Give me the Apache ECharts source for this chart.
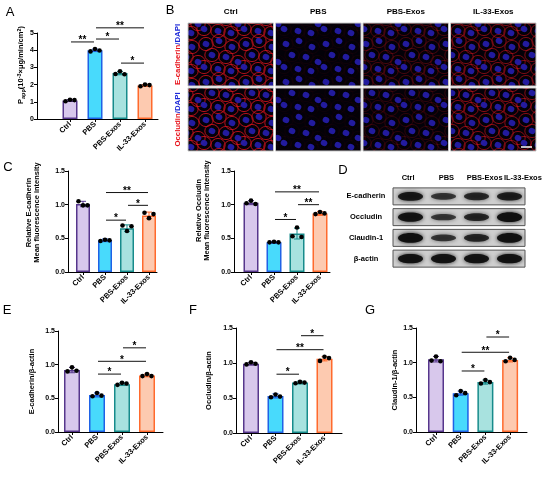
<!DOCTYPE html>
<html>
<head>
<meta charset="utf-8">
<script src="https://cdn.jsdelivr.net/npm/echarts@6/dist/echarts.min.js"></script>
<style>
html, body { margin: 0; padding: 0; background: #fff; }
#main { width: 550px; height: 479px; }
</style>
</head>
<body>
<div id="main"></div>
<script>
var groups = ['Ctrl', 'PBS', 'PBS-Exos', 'IL-33-Exos'];

// A: Papp
var pappMean = [1.08, 3.99, 2.67, 1.95];
var pappSd = [0.05, 0.07, 0.10, 0.05];
var pappDots = [[1.03, 1.12, 1.10], [3.93, 4.07, 3.98], [2.62, 2.78, 2.60], [1.90, 2.00, 1.97]];
var pappSig = [[0, 1, 4.48, '**'], [1, 3, 5.3, '**'], [1, 2, 4.65, '*'], [2, 3, 3.25, '*']];

// C: relative mean fluorescence intensity
var ecadMfiMean = [1.01, 0.47, 0.65, 0.84];
var ecadMfiSd = [0.04, 0.02, 0.05, 0.05];
var ecadMfiDots = [[1.05, 0.99, 0.99], [0.46, 0.48, 0.47], [0.69, 0.61, 0.68], [0.88, 0.80, 0.86]];
var ecadMfiSig = [[1, 3, 1.18, '**'], [2, 3, 0.99, '*'], [1, 2, 0.77, '*']];

var occMfiMean = [1.03, 0.44, 0.57, 0.87];
var occMfiSd = [0.03, 0.01, 0.08, 0.03];
var occMfiDots = [[1.02, 1.06, 1.01], [0.44, 0.45, 0.44], [0.53, 0.66, 0.52], [0.86, 0.89, 0.87]];
var occMfiSig = [[1, 3, 1.19, '**'], [2, 3, 1.0, '**'], [1, 2, 0.78, '*']];

// E, F, G: western blot densitometry
var ecadRatio = [0.92, 0.55, 0.71, 0.84];
var ecadRatioSd = [0.04, 0.03, 0.02, 0.02];
var ecadRatioDots = [[0.90, 0.96, 0.91], [0.53, 0.58, 0.54], [0.70, 0.73, 0.72], [0.83, 0.86, 0.83]];
var ecadRatioSig = [[2, 3, 1.25, '*'], [1, 3, 1.05, '*'], [1, 2, 0.86, '*']];

var occRatio = [0.99, 0.53, 0.72, 1.06];
var occRatioSd = [0.02, 0.03, 0.02, 0.03];
var occRatioDots = [[0.98, 1.01, 0.99], [0.51, 0.55, 0.52], [0.71, 0.73, 0.72], [1.03, 1.09, 1.07]];
var occRatioSig = [[2, 3, 1.39, '*'], [1, 3, 1.19, '**'], [1, 2, 0.84, '*']];

var cldRatio = [1.05, 0.56, 0.72, 1.04];
var cldRatioSd = [0.04, 0.03, 0.03, 0.03];
var cldRatioDots = [[1.03, 1.09, 1.02], [0.53, 0.59, 0.56], [0.70, 0.75, 0.72], [1.02, 1.07, 1.04]];
var cldRatioSig = [[2, 3, 1.37, '*'], [1, 3, 1.15, '**'], [1, 2, 0.88, '*']];

var actinBand = [1, 1, 1, 1];
var blotRows = ['E-cadherin', 'Occludin', 'Claudin-1', '\u03b2-actin'];
var stainRows = ['E-cadherin', 'Occludin'];

var FONT = 'Liberation Sans, Arial, sans-serif';
var fills = ['#d8c8ec', '#48dafc', '#a8e2df', '#fdcab0'];
var edges = ['#56368c', '#1f62e6', '#178b8b', '#ff6a2d'];

var grids = [], xAxes = [], yAxes = [], series = [], graphics = [];

function dotsRender(params, api) {
	var p = api.coord([api.value(0), api.value(1)]);
	var off = [-4.5, 0, 4.5][api.value(2)];
	return {type: 'circle', z2: 10, shape: {cx: p[0] + off, cy: p[1], r: 2.3}, style: {fill: '#000'}};
}

function errRender(params, api) {
	var i = api.value(0), m = api.value(1), s = api.value(2);
	var hi = api.coord([i, m + s]), lo = api.coord([i, m - s]);
	var st = {stroke: edges[i], lineWidth: 1};
	return {type: 'group', children: [
		{type: 'line', shape: {x1: hi[0], y1: hi[1], x2: lo[0], y2: lo[1]}, style: st},
		{type: 'line', shape: {x1: hi[0] - 3, y1: hi[1], x2: hi[0] + 3, y2: hi[1]}, style: st},
		{type: 'line', shape: {x1: lo[0] - 3, y1: lo[1], x2: lo[0] + 3, y2: lo[1]}, style: st}
	]};
}

function sigRenderer(sig) {
	return function(params, api) {
		var a = api.coord([api.value(0), api.value(2)]);
		var b = api.coord([api.value(1), api.value(2)]);
		return {type: 'group', children: [
			{type: 'line', shape: {x1: a[0] + 1, y1: a[1], x2: b[0] - 1, y2: a[1]}, style: {stroke: '#111', lineWidth: 1}},
			{type: 'text', x: (a[0] + b[0]) / 2, y: a[1] + 3.5,
				style: {text: sig[params.dataIndex][3], font: 'bold 10px ' + FONT, fill: '#000', align: 'center', verticalAlign: 'bottom'}}
		]};
	};
}

function barPanel(L, mean, sd, dots, sig, title, nameStyle) {
	var f = grids.length;
	grids.push({left: L.axisX, top: L.top, width: L.axisEnd - L.axisX, height: L.y0 - L.top});
	grids.push({left: L.c0 - L.step / 2, top: L.top, width: 4 * L.step, height: L.y0 - L.top});
	var line = {color: '#000', width: 1};
	var ns = nameStyle || {fontSize: 7.5, fontWeight: 'bold', color: '#000', fontFamily: FONT, lineHeight: 8};
	ns.padding = [0, 0, 0, L.lift || 0];
	xAxes.push({gridIndex: f, type: 'category', data: [''], axisLine: {lineStyle: line},
		axisTick: {show: false}, axisLabel: {show: false}});
	yAxes.push({gridIndex: f, type: 'value', min: 0, max: L.yMax, interval: L.interval,
		axisLine: {show: true, lineStyle: line}, axisTick: {show: true, length: 3, lineStyle: line},
		splitLine: {show: false},
		axisLabel: {fontSize: 7, fontWeight: 'bold', color: '#000', margin: 3, fontFamily: FONT,
			formatter: function(v) { return v.toFixed(L.dec); }},
		name: title, nameLocation: 'middle', nameGap: L.nameGap, nameRotate: 90, nameTextStyle: ns});
	var k = xAxes.length;
	xAxes.push({gridIndex: f + 1, type: 'category', data: groups, axisLine: {show: false},
		axisTick: {show: true, alignWithLabel: true, length: 3, lineStyle: line},
		axisLabel: {rotate: 45, interval: 0, fontSize: 7.5, fontWeight: 'bold', color: '#000', margin: 4, fontFamily: FONT}});
	yAxes.push({gridIndex: f + 1, type: 'value', min: 0, max: L.yMax, show: false});
	series.push({type: 'bar', xAxisIndex: k, yAxisIndex: k, barWidth: L.barW, silent: true,
		data: mean.map(function(v, i) {
			return {value: v, itemStyle: {color: fills[i], borderColor: edges[i], borderWidth: 1.5}};
		})});
	series.push({type: 'custom', xAxisIndex: k, yAxisIndex: k, silent: true, z: 3, renderItem: errRender,
		data: mean.map(function(v, i) { return [i, v, sd[i]]; })});
	var pts = [];
	dots.forEach(function(arr, i) { arr.forEach(function(v, r) { pts.push([i, v, r]); }); });
	series.push({type: 'custom', xAxisIndex: k, yAxisIndex: k, silent: true, z: 4, renderItem: dotsRender, data: pts});
	series.push({type: 'custom', xAxisIndex: k, yAxisIndex: k, silent: true, clip: false,
		renderItem: sigRenderer(sig), encode: {x: 0, y: 2},
		data: sig.map(function(s) { return [s[0], s[1], s[2]]; })});
}

var pappName = {fontSize: 7.5, fontWeight: 'bold', color: '#000', fontFamily: FONT,
	rich: {
		sub: {fontSize: 5.5, fontWeight: 'bold', fontFamily: FONT, verticalAlign: 'bottom', lineHeight: 10},
		sup: {fontSize: 5.5, fontWeight: 'bold', fontFamily: FONT, verticalAlign: 'top', lineHeight: 10}
	}};

barPanel({axisX: 37, axisEnd: 158, top: 33, y0: 119, c0: 70, step: 25, barW: 15, yMax: 5, interval: 1, dec: 0, nameGap: 9, lift: 22},
	pappMean, pappSd, pappDots, pappSig, 'P{sub|app}(10{sup|-3}\u00d7\u03bcg/min/cm{sup|2})', pappName);
barPanel({axisX: 68, axisEnd: 157, top: 171, y0: 272, c0: 83, step: 22, barW: 14, yMax: 1.5, interval: 0.5, dec: 1, nameGap: 27, lift: 18},
	ecadMfiMean, ecadMfiSd, ecadMfiDots, ecadMfiSig, 'Relative E-cadherin\nMean fluorescence intensity');
barPanel({axisX: 234, axisEnd: 330, top: 171, y0: 272, c0: 251, step: 23, barW: 15, yMax: 1.5, interval: 0.5, dec: 1, nameGap: 23, lift: 22},
	occMfiMean, occMfiSd, occMfiDots, occMfiSig, 'Relative Occludin\nMean fluorescence intensity');
barPanel({axisX: 58, axisEnd: 163, top: 331, y0: 432, c0: 72, step: 25, barW: 16, yMax: 1.5, interval: 0.5, dec: 1, nameGap: 22},
	ecadRatio, ecadRatioSd, ecadRatioDots, ecadRatioSig, 'E-cadherin/\u03b2-actin');
barPanel({axisX: 236, axisEnd: 342, top: 328, y0: 433, c0: 251, step: 24.5, barW: 16, yMax: 1.5, interval: 0.5, dec: 1, nameGap: 23},
	occRatio, occRatioSd, occRatioDots, occRatioSig, 'Occludin/\u03b2-actin');
barPanel({axisX: 416, axisEnd: 527, top: 328, y0: 432, c0: 436, step: 24.7, barW: 16, yMax: 1.5, interval: 0.5, dec: 1, nameGap: 17},
	cldRatio, cldRatioSd, cldRatioDots, cldRatioSig, 'Claudin-1/\u03b2-actin');

// B: immunofluorescence tiles, red membrane strength follows the MFI in C
var nucleiPos = [[6, 6], [19, 3], [32, 9], [12, 17], [26, 19], [38, 24], [4, 29], [18, 31], [31, 33]];
var tiles = {};
function makeTile(a) {
	var key = a.toFixed(2);
	if (tiles[key]) return tiles[key];
	var W = 40, H = 38;
	var c = document.createElement('canvas');
	c.width = W; c.height = H;
	var ctx = c.getContext('2d');
	ctx.fillStyle = '#030108';
	ctx.fillRect(0, 0, W, H);
	var shifts = [[0, 0], [W, 0], [-W, 0], [0, H], [0, -H], [W, H], [-W, -H], [W, -H], [-W, H]];
	ctx.strokeStyle = 'rgba(215,20,30,' + a + ')';
	ctx.lineWidth = 0.9;
	nucleiPos.forEach(function(n) {
		shifts.forEach(function(s) {
			ctx.beginPath();
			ctx.ellipse(n[0] + s[0], n[1] + s[1], 7.2, 6.6, 0, 0, Math.PI * 2);
			ctx.stroke();
		});
	});
	ctx.fillStyle = 'rgba(38,30,175,0.9)';
	nucleiPos.forEach(function(n) {
		shifts.forEach(function(s) {
			ctx.beginPath();
			ctx.ellipse(n[0] + s[0], n[1] + s[1], 3.4, 3.0, 0.4, 0, Math.PI * 2);
			ctx.fill();
		});
	});
	tiles[key] = c;
	return c;
}
var stainCells = [];
[ecadMfiMean, occMfiMean].forEach(function(arr, r) {
	arr.forEach(function(v, c) { stainCells.push([c, r, v]); });
});
var bg = grids.length;
grids.push({left: 187, top: 22, width: 350, height: 130});
xAxes.push({gridIndex: bg, type: 'category', data: groups, position: 'top',
	axisLine: {show: false}, axisTick: {show: false},
	axisLabel: {interval: 0, fontSize: 8, fontWeight: 'bold', color: '#000', margin: 6, fontFamily: FONT}});
yAxes.push({gridIndex: bg, type: 'category', data: stainRows, inverse: true,
	axisLine: {show: false}, axisTick: {show: false},
	axisLabel: {interval: 0, rotate: 90, margin: 5, fontFamily: FONT,
		formatter: function(v) { return '{r|' + v + '}{b|/DAPI}'; },
		rich: {r: {color: '#e8141c', fontSize: 7.8, fontWeight: 'bold', fontFamily: FONT},
			b: {color: '#1e2ad8', fontSize: 7.8, fontWeight: 'bold', fontFamily: FONT}}}});
series.push({type: 'custom', xAxisIndex: xAxes.length - 1, yAxisIndex: yAxes.length - 1, silent: true,
	data: stainCells,
	renderItem: function(params, api) {
		var p = api.coord([api.value(0), api.value(1)]);
		var s = api.size([1, 1]);
		var a = Math.min(1, Math.max(0.06, (api.value(2) - 0.42) * 1.5));
		var x = p[0] - s[0] / 2 + 1, y = p[1] - s[1] / 2 + 1, w = s[0] - 2, h = s[1] - 2;
		var kids = [{type: 'rect', shape: {x: x, y: y, width: w, height: h},
			style: {fill: {image: makeTile(a), repeat: 'repeat'}, stroke: '#c8c8c8', lineWidth: 1}}];
		if (params.dataIndex === stainCells.length - 1) {
			kids.push({type: 'line', shape: {x1: x + w - 15, y1: y + h - 4, x2: x + w - 4, y2: y + h - 4},
				style: {stroke: '#fff', lineWidth: 1.5}});
		}
		return {type: 'group', children: kids};
	}});

// D: western blot, band strength follows the ratios in E-G
var bandCells = [];
[ecadRatio, occRatio, cldRatio, actinBand].forEach(function(arr, r) {
	arr.forEach(function(v, c) { bandCells.push([c, r, v]); });
});
var dg = grids.length;
grids.push({left: 395, top: 186, width: 132, height: 83});
xAxes.push({gridIndex: dg, type: 'category', data: groups, show: false});
yAxes.push({gridIndex: dg, type: 'category', data: blotRows, inverse: true,
	axisLine: {show: false}, axisTick: {show: false},
	axisLabel: {interval: 0, align: 'center', margin: 29, fontSize: 7.5, fontWeight: 'bold', color: '#000', fontFamily: FONT}});
series.push({type: 'custom', xAxisIndex: xAxes.length - 1, yAxisIndex: yAxes.length - 1, silent: true,
	data: blotRows.map(function(n, r) { return [0, r]; }),
	renderItem: function(params, api) {
		var cs = params.coordSys;
		var p = api.coord([0, api.value(1)]);
		return {type: 'rect', shape: {x: cs.x - 2, y: p[1] - 8.5, width: cs.width, height: 17},
			style: {fill: '#cfcfcf', stroke: '#555', lineWidth: 1}};
	}});
series.push({type: 'custom', xAxisIndex: xAxes.length - 1, yAxisIndex: yAxes.length - 1, silent: true,
	data: bandCells,
	renderItem: function(params, api) {
		var p = api.coord([api.value(0), api.value(1)]);
		var v = Math.min(1.1, api.value(2));
		var a = 0.45 + 0.5 * v;
		return {type: 'ellipse', shape: {cx: p[0] - 1, cy: p[1], rx: 12.5, ry: 1.5 + 3.2 * v},
			style: {fill: 'rgba(15,15,15,' + a + ')', shadowBlur: 4, shadowColor: 'rgba(20,20,20,' + a + ')'}};
	}});
var hg = grids.length;
grids.push({left: 389, top: 186, width: 153, height: 1});
xAxes.push({gridIndex: hg, type: 'category', data: groups, position: 'top',
	axisLine: {show: false}, axisTick: {show: false},
	axisLabel: {interval: 0, fontSize: 7.5, fontWeight: 'bold', color: '#000', margin: 4, fontFamily: FONT}});
yAxes.push({gridIndex: hg, type: 'value', show: false});

var letters = [['A', 10, 12], ['B', 170, 10], ['C', 8, 167], ['D', 343, 170], ['E', 7, 310], ['F', 193, 310], ['G', 370, 310]];
letters.forEach(function(l) {
	graphics.push({type: 'text', x: l[1], y: l[2],
		style: {text: l[0], font: '13px ' + FONT, fill: '#000', align: 'center', verticalAlign: 'middle'}});
});

var chart = echarts.init(document.getElementById('main'));
chart.setOption({
	animation: false,
	grid: grids,
	xAxis: xAxes,
	yAxis: yAxes,
	series: series,
	graphic: graphics
});
</script>
</body>
</html>
